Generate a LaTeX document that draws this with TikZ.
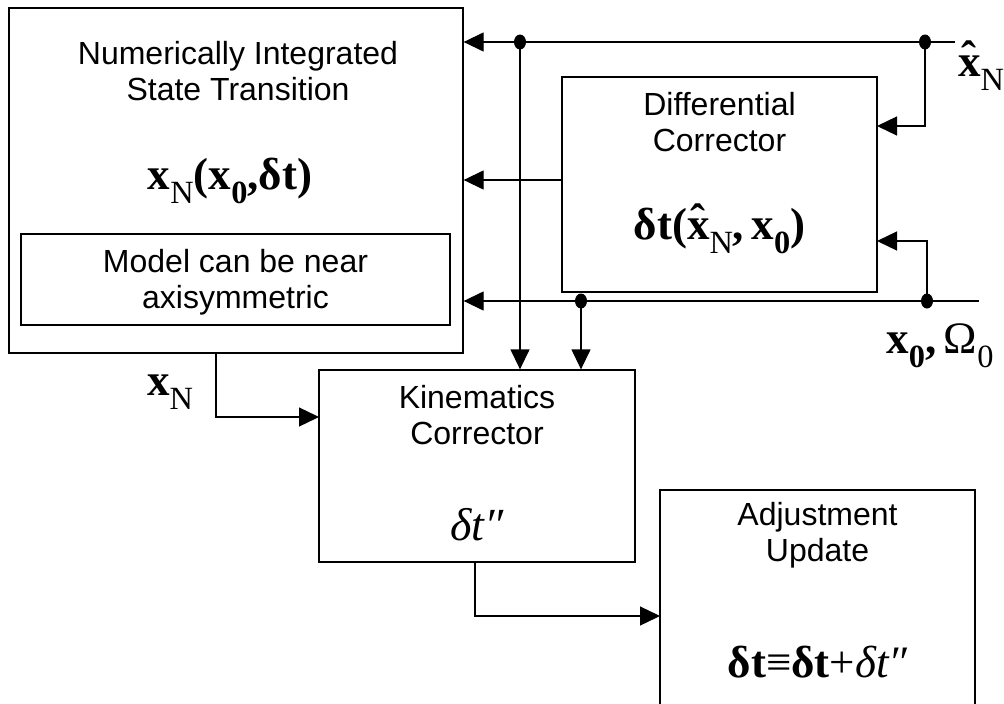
\documentclass[tikz,border=0pt]{standalone}
\usepackage{fontspec}
\usepackage{graphicx}
\setmainfont{Liberation Sans}
\newfontfamily\tmr{Liberation Serif}
\usetikzlibrary{arrows.meta,shapes.geometric}
\newcommand\sbN[1]{\raisebox{-0.32em}{\scalebox{0.72}{#1}}}
\newcommand\hx{\ooalign{x\cr\hidewidth\raisebox{0.08em}{\char"02C6}\hidewidth\cr}}
\tikzset{
  box/.style={draw, line width=1.3pt, rectangle, inner sep=0pt},
  lbl/.style={align=center, inner sep=0pt, font=\fontsize{32}{36}\selectfont},
  mth/.style={inner sep=0pt, font=\tmr\fontsize{45}{50}\selectfont},
  arr/.style={line width=1.3pt, -{Triangle[length=20pt,width=19pt]}},
  dot/.style={fill=black, draw=none, ellipse, minimum width=12pt, minimum height=15pt, inner sep=0pt}
}
\begin{document}
\begin{tikzpicture}[x=1pt,y=-1pt]
\clip (0,0) rectangle (1004,704);
\fill[white] (0,0) rectangle (1004,704);
% boxes
\node[box, minimum width=454pt, minimum height=345pt] (nit) at (236,180.5) {};
\node[box, minimum width=429pt, minimum height=91pt] (mod) at (235.5,279.5) {};
\node[box, minimum width=315pt, minimum height=215pt] (dc) at (719.5,184.5) {};
\node[box, minimum width=316pt, minimum height=192pt] (kin) at (477,466) {};
\node[box, minimum width=315pt, minimum height=240pt] (adj) at (817.5,610) {};
% texts
\node[lbl] (t1) at (238,71) {Numerically Integrated\\State Transition};
\node[mth] (m1) at (230,181) {\bfseries x\sbN{\mdseries N}(x\sbN{0},δt)};
\node[lbl] (t2) at (235.5,282) {Model can be near\\axisymmetric};
\node[lbl] (t3) at (719.5,122) {Differential\\Corrector};
\node[mth] (m2) at (719.5,231) {\bfseries δt(\hx\sbN{\mdseries N},\,x\sbN{0})};
\node[lbl] (t4) at (477,415) {Kinematics\\Corrector};
\node[mth, font=\tmr\itshape\fontsize{46}{50}\selectfont] (m3) at (477,525) {δt″};
\node[lbl] (t5) at (817.5,535) {Adjustment\\Update};
\node[mth] (m4) at (817.5,662) {\bfseries δt{\mdseries≡}δt{\mdseries +}{\mdseries\itshape δt″}};
% external labels
\node[mth] (lxh) at (981,73) {\bfseries \hx\sbN{\mdseries N}};
\node[mth] (lx0) at (940,346) {\bfseries x\sbN{0},\,{\mdseries Ω\sbN{0}}};
\node[mth] (lxn) at (170,392) {\bfseries x\sbN{\mdseries N}};
% coordinates
\coordinate (xhin) at (955,42);
\coordinate (x0in) at (979,301);
\node[dot] (dA) at (520,42) {};
\node[dot] (dB) at (925,42) {};
\node[dot] (dC) at (581,301) {};
\node[dot] (dD) at (927,301) {};
\coordinate (dcA) at (877,126);
\coordinate (dcB) at (877,241);
\coordinate (nout) at (216,353);
\coordinate (kinin) at (319,417);
\coordinate (kout) at (475,562);
\coordinate (adjin) at (660,616);
% connectors
\draw[arr] (xhin) -- (xhin -| nit.east);
\draw[arr] (x0in) -- (x0in -| nit.east);
\draw[arr] (dc.west |- 0,180) -- (nit.east |- 0,180);
\draw[arr] (dA.center) -- (dA |- kin.north);
\draw[arr] (dC.center) -- (dC |- kin.north);
\draw[arr] (dB.center) |- (dcA);
\draw[arr] (dD.center) |- (dcB);
\draw[arr] (nout) |- (kinin);
\draw[arr] (kout) |- (adjin);
\end{tikzpicture}
\end{document}
